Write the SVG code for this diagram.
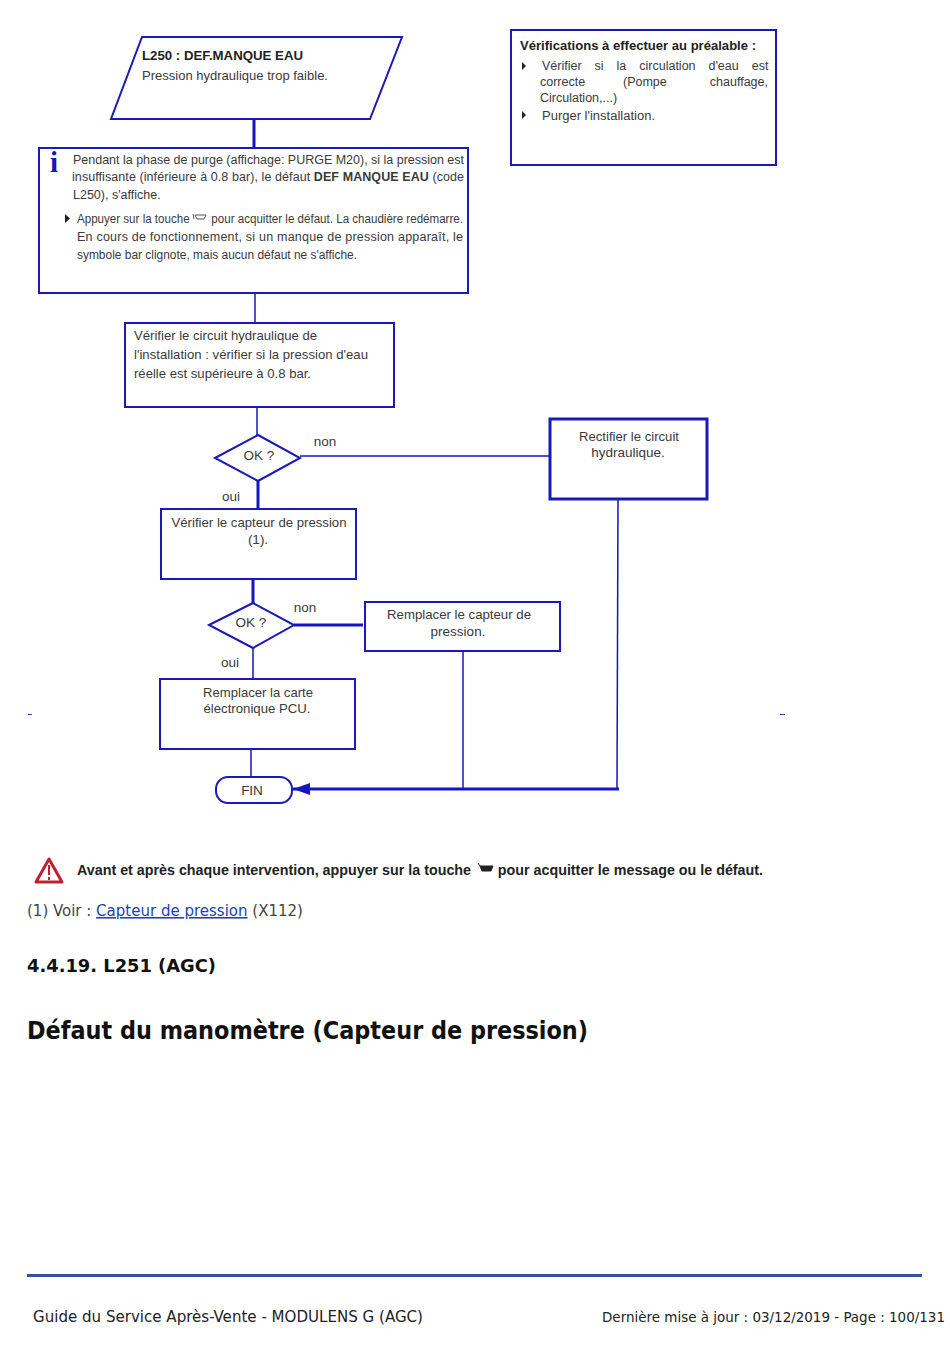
<svg xmlns="http://www.w3.org/2000/svg" width="950" height="1360" viewBox="0 0 950 1360">
<style>
.b{fill:#fff;stroke:#1a1ab8;stroke-width:2}
.c{fill:none;stroke:#1414c0;stroke-width:1.5}
.k{stroke-width:3}
text{font-family:"Liberation Sans",Arial,sans-serif}
.t{font-size:13.5px;fill:#3a3a3a}
.s{font-size:12.5px;fill:#3a3a3a}
.h{font-weight:bold;fill:#222}
.m{text-anchor:middle}
.d{font-family:"DejaVu Sans",sans-serif;font-stretch:condensed}
</style>
<defs><marker id="a" markerWidth="18" markerHeight="12" refX="17" refY="6" orient="auto" markerUnits="userSpaceOnUse"><path d="M17 6L0 0V12Z" fill="#1414c0"/></marker></defs>
<rect width="950" height="1360" fill="#fff"/>
<g id="connectors">
<path class="c k" d="M254 119V148"/>
<path class="c" d="M255 293V323"/>
<path class="c" d="M257 407V435"/>
<path class="c" d="M300 456H552"/>
<path class="c k" d="M258 481V509"/>
<path class="c k" d="M253 579V603"/>
<path class="c k" d="M294 625H363"/>
<path class="c" d="M253 648V679"/>
<path class="c" d="M251 749V777"/>
<path class="c" d="M463 651V789"/>
<path class="c" d="M618 499L617 789"/>
<path class="c k" d="M619 789H293" marker-end="url(#a)"/>
</g>
<g id="n-start"><path class="b" d="M142 37H402L370 119H111Z"/>
<text x="142" y="60" class="t h" textLength="161" lengthAdjust="spacingAndGlyphs">L250 : DEF.MANQUE EAU</text>
<text x="142" y="80" class="t" textLength="186" lengthAdjust="spacingAndGlyphs">Pression hydraulique trop faible.</text></g>
<g id="n-checks"><rect class="b" x="511" y="30" width="265" height="135"/>
<text x="520" y="50" class="t h" textLength="236" lengthAdjust="spacingAndGlyphs">Vérifications à effectuer au préalable :</text>
<path d="M522 62l4 4-4 4Z M522 111l4 4-4 4Z" fill="#222"/>
<text x="542" y="70" class="s" word-spacing="9.500">Vérifier si la circulation d'eau est</text>
<text x="540" y="86" class="s">correcte</text><text x="623" y="86" class="s">(Pompe</text><text x="768" y="86" class="s" text-anchor="end">chauffage,</text>
<text x="540" y="102" class="s">Circulation,...)</text>
<text x="542" y="120" class="s" textLength="113" lengthAdjust="spacingAndGlyphs">Purger l'installation.</text></g>
<g id="n-info"><rect class="b" x="39" y="148" width="429" height="145"/>
<text x="50" y="172" font-size="29" font-weight="bold" fill="#1414c0" style="font-family:'Liberation Serif',serif">i</text>
<text x="73" y="164" class="s" textLength="391">Pendant la phase de purge (affichage: PURGE M20), si la pression est</text>
<text x="72" y="181" class="s" textLength="392">insuffisante (inférieure à 0.8 bar), le défaut <tspan font-weight="bold">DEF MANQUE EAU</tspan> (code</text>
<text x="73" y="199" class="s">L250), s'affiche.</text>
<path d="M65 214l5 4.500-5 4.500Z" fill="#222"/>
<text x="77" y="223" class="s" textLength="386" lengthAdjust="spacingAndGlyphs">Appuyer sur la touche<tspan dx="20"> pour acquitter le défaut. La chaudière redémarre.</tspan></text>
<path d="M193 214l1 5M195 215h11l-2 4h-7Z" fill="none" stroke="#555"/>
<text x="77" y="241" class="s" textLength="386">En cours de fonctionnement, si un manque de pression apparaît, le</text>
<text x="77" y="259" class="s" textLength="280" lengthAdjust="spacingAndGlyphs">symbole bar clignote, mais aucun défaut ne s'affiche.</text></g>
<g id="n-verify"><rect class="b" x="125" y="323" width="269" height="84"/>
<text x="134" y="340" class="t" textLength="183" lengthAdjust="spacingAndGlyphs">Vérifier le circuit hydraulique de</text>
<text x="134" y="359" class="t" textLength="234" lengthAdjust="spacingAndGlyphs">l'installation : vérifier si la pression d'eau</text>
<text x="134" y="378" class="t" textLength="177" lengthAdjust="spacingAndGlyphs">réelle est supérieure à 0.8 bar.</text></g>
<g id="n-ok1"><path class="b" d="M215 458L258 435L300 458L258 481Z"/><text x="259" y="460" class="t m">OK ?</text></g>
<text x="325" y="446" class="t m">non</text><text x="231" y="501" class="t m">oui</text>
<g id="n-rectify"><rect class="b" x="550" y="419" width="157" height="80" style="stroke-width:3"/>
<text x="629" y="441" class="t m" textLength="100" lengthAdjust="spacingAndGlyphs">Rectifier le circuit</text>
<text x="628" y="457" class="t m">hydraulique.</text></g>
<g id="n-sensor"><rect class="b" x="161" y="509" width="195" height="70"/>
<text x="259" y="527" class="t m" textLength="175" lengthAdjust="spacingAndGlyphs">Vérifier le capteur de pression</text>
<text x="258" y="544" class="t m">(1).</text></g>
<g id="n-ok2"><path class="b" d="M209 625L253 603L294 625L253 648Z"/><text x="251" y="627" class="t m">OK ?</text></g>
<text x="305" y="612" class="t m">non</text><text x="230" y="667" class="t m">oui</text>
<g id="n-replace-sensor"><rect class="b" x="365" y="602" width="195" height="49"/>
<text x="459" y="619" class="t m" textLength="144" lengthAdjust="spacingAndGlyphs">Remplacer le capteur de</text>
<text x="458" y="636" class="t m">pression.</text></g>
<g id="n-replace-pcu"><rect class="b" x="160" y="679" width="195" height="70"/>
<text x="258" y="697" class="t m" textLength="110" lengthAdjust="spacingAndGlyphs">Remplacer la carte</text>
<text x="257" y="713" class="t m" textLength="107" lengthAdjust="spacingAndGlyphs">électronique PCU.</text></g>
<g id="n-fin"><rect class="b" x="216" y="777" width="76" height="26" rx="12"/><text x="252" y="795" class="t m">FIN</text></g>
<path d="M28 714.500h4M780 714.500h5" stroke="#3a3ac0"/>
<path d="M49 859L62 882H36Z" fill="#fff" stroke="#c0202f" stroke-width="3" stroke-linejoin="round"/>
<path d="M49 865V875M49 877V880" stroke="#c0202f" stroke-width="2"/>
<text x="77" y="875" class="h" font-size="15" textLength="686" lengthAdjust="spacingAndGlyphs">Avant et après chaque intervention, appuyer sur la touche<tspan dx="24"> pour acquitter le message ou le défaut.</tspan></text>
<path d="M478 863l2 3M480 866h13l-2 5h-9Z" fill="#222" stroke="#222"/>
<text x="27" y="916" class="d" font-size="15.500" fill="#444" textLength="276" lengthAdjust="spacingAndGlyphs">(1) Voir : <tspan fill="#1a3fc0" text-decoration="underline">Capteur de pression</tspan> (X112)</text>
<text x="27" y="972" class="d" font-size="18" font-weight="bold" fill="#111" textLength="189" lengthAdjust="spacingAndGlyphs">4.4.19. L251 (AGC)</text>
<text x="27" y="1039" class="d" font-size="24" font-weight="bold" fill="#111" textLength="561" lengthAdjust="spacingAndGlyphs">Défaut du manomètre (Capteur de pression)</text>
<path d="M27 1275.500H922" stroke="#34509e" stroke-width="3"/>
<text x="33" y="1322" class="d" font-size="15.500" fill="#222" textLength="390" lengthAdjust="spacingAndGlyphs">Guide du Service Après-Vente - MODULENS G (AGC)</text>
<text x="602" y="1322" class="d" font-size="13.500" fill="#222" textLength="343" lengthAdjust="spacingAndGlyphs">Dernière mise à jour : 03/12/2019 - Page : 100/131</text>
</svg>
